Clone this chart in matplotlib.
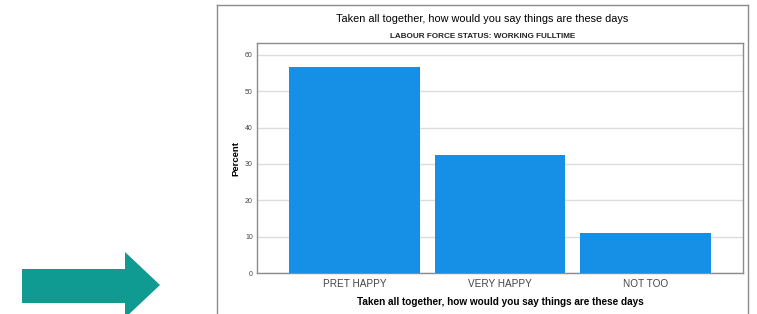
import matplotlib
matplotlib.use("Agg")
import matplotlib.pyplot as plt
from matplotlib.patches import Polygon
from matplotlib.lines import Line2D
import numpy as np

categories = ["PRET HAPPY", "VERY HAPPY", "NOT TOO"]
percent = [56.8, 32.4, 11.0]
yticks = [0, 10, 20, 30, 40, 50, 60]

title = "Taken all together, how would you say things are these days"
subtitle = "LABOUR FORCE STATUS: WORKING FULLTIME"
xlabel = "Taken all together, how would you say things are these days"
ylabel = "Percent"

plt.rcParams['font.family'] = ['Liberation Sans', 'DejaVu Sans']

W, H = 757, 314
fig = plt.figure(figsize=(W / 100, H / 100), dpi=100)

def fx(px):
    return px / W

def fy(py):
    return 1 - py / H

# outer frame (left, top, right)
frame_col = "#8c8c8c"
fig.add_artist(Line2D([fx(217), fx(217)], [fy(5), 0], color=frame_col, lw=1.0, transform=fig.transFigure))
fig.add_artist(Line2D([fx(217), fx(748)], [fy(5), fy(5)], color=frame_col, lw=1.0, transform=fig.transFigure))
fig.add_artist(Line2D([fx(748), fx(748)], [fy(5), 0], color=frame_col, lw=1.0, transform=fig.transFigure))

# teal arrow
arrow_pts = [(22, 269), (125, 269), (125, 252), (160, 285), (125, 318), (125, 303), (22, 303)]
arrow = Polygon([(fx(x), fy(y)) for x, y in arrow_pts], closed=True,
                transform=fig.transFigure, facecolor="#0f9a92", edgecolor="none")
fig.add_artist(arrow)

ax = fig.add_axes([fx(257), fy(273), fx(743) - fx(257), (273 - 43) / H])
x = np.arange(len(categories))
ax.bar(x, percent, width=0.9, color="#1690e6", zorder=3)
ax.set_xlim(-0.67, 2.67)
ax.set_ylim(0, 63.3)
ax.set_yticks(yticks)
ax.set_yticklabels([str(v) for v in yticks], fontsize=5, color="#444444")
ax.set_xticks(x)
ax.set_xticklabels(categories, fontsize=7.2, color="#444444")
ax.tick_params(axis='y', length=0, pad=3)
ax.tick_params(axis='x', length=0, pad=4)
ax.yaxis.grid(True, color="#dcdcdc", lw=1.0, zorder=0)
ax.set_axisbelow(True)
for s in ax.spines.values():
    s.set_color("#8c8c8c")
    s.set_linewidth(1.0)

ax.set_ylabel(ylabel, fontsize=6.8, fontweight='bold', labelpad=3)
ax.set_xlabel(xlabel, fontsize=7.2, fontweight='bold', labelpad=6)

fig.text(fx(482), fy(19), title, ha='center', va='center', fontsize=7.8, color="#000000")
fig.text(fx(483), fy(36), subtitle, ha='center', va='center', fontsize=5.9, fontweight='bold', color="#222222")

fig.savefig("out.png", dpi=100)
